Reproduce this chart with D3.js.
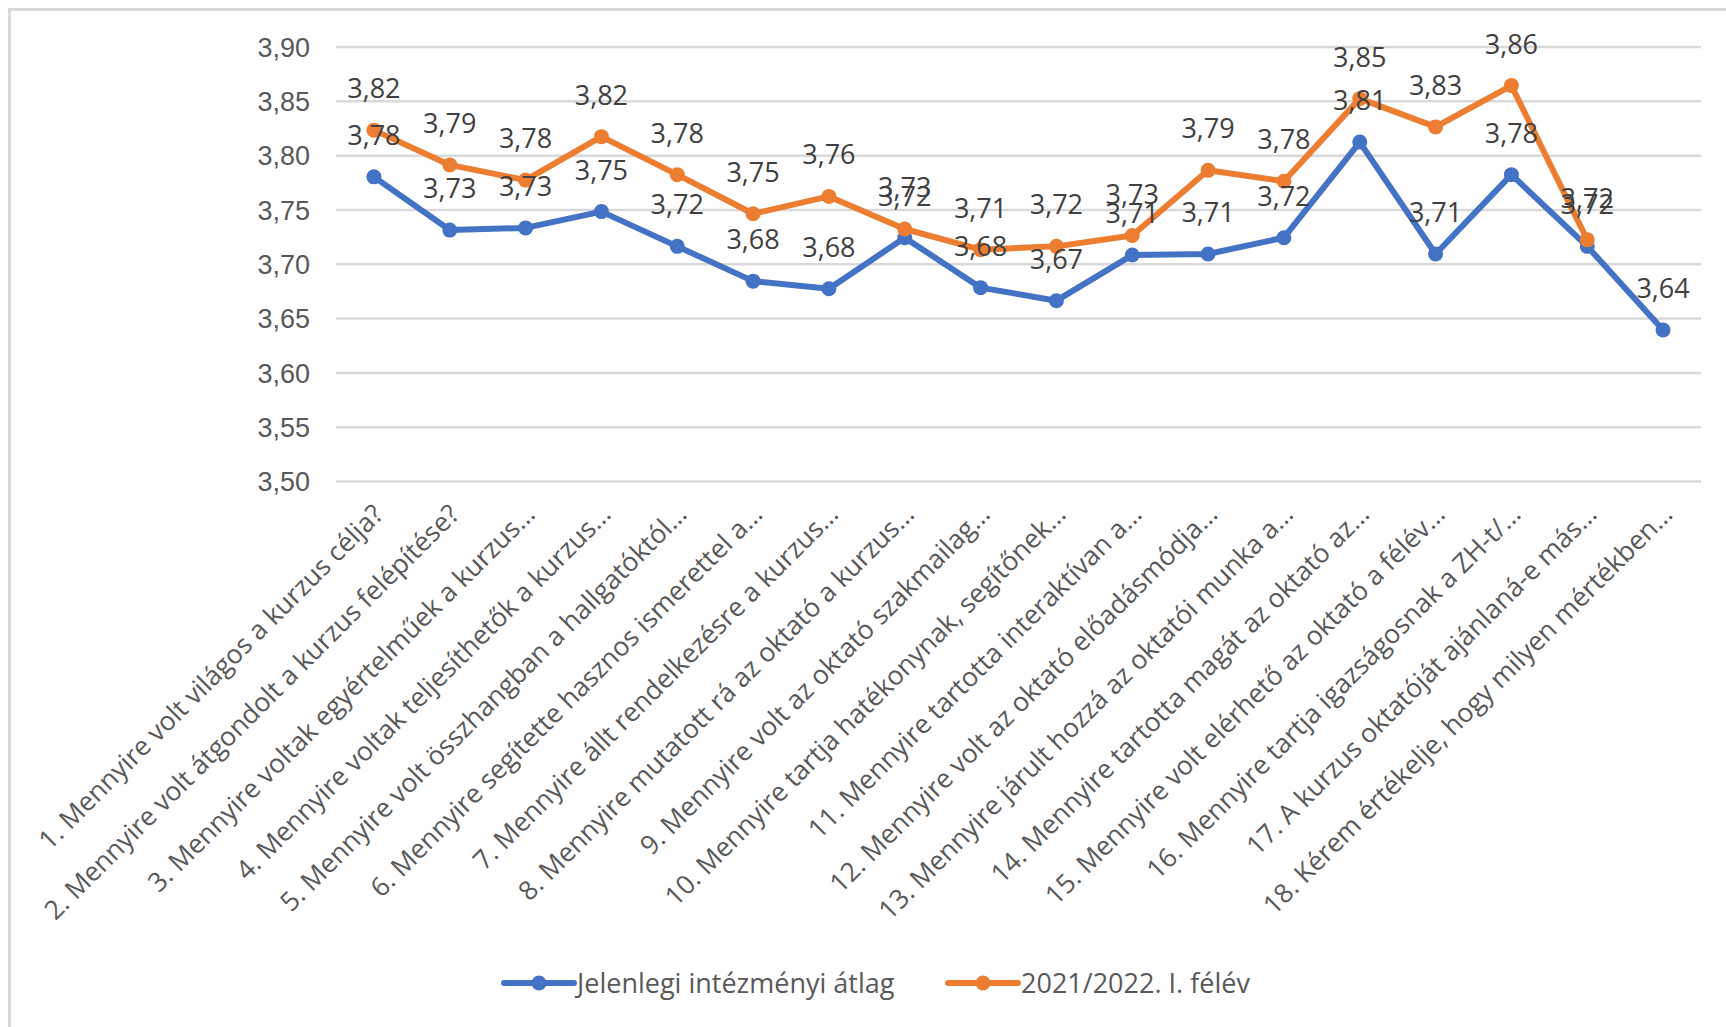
<!DOCTYPE html>
<html>
<head>
<meta charset="utf-8">
<script src="https://cdn.jsdelivr.net/npm/d3@7"></script>
<style>
  body { margin: 0; background: #fff; }
  svg { display: block; font-family: "Open Sans", sans-serif; }
  .gridlines line { stroke: #d9d9d9; stroke-width: 2.5; }
  .gridlines .domain { display: none; }
  .gridlines text { fill: #595959; font-size: 27px; }
  .cat-label { fill: #595959; font-size: 26.5px; }
  .data-label { fill: #404040; font-size: 27px; }
  .legend-text { fill: #595959; font-size: 27px; }
</style>
</head>
<body>
<svg id="chart"></svg>
<script>
const SVGWidth = 1726;
const SVGHeight = 1027;

// categories (x axis, rotated)
const categories = [
  "1. Mennyire volt világos a kurzus célja?",
  "2. Mennyire volt átgondolt a kurzus felépítése?",
  "3. Mennyire voltak egyértelműek a kurzus…",
  "4. Mennyire voltak teljesíthetők a kurzus…",
  "5. Mennyire volt összhangban a hallgatóktól…",
  "6. Mennyire segítette hasznos ismerettel a…",
  "7. Mennyire állt rendelkezésre a kurzus…",
  "8. Mennyire mutatott rá az oktató a kurzus…",
  "9. Mennyire volt az oktató szakmailag…",
  "10. Mennyire tartja hatékonynak, segítőnek…",
  "11. Mennyire tartotta interaktívan a…",
  "12. Mennyire volt az oktató előadásmódja…",
  "13. Mennyire járult hozzá az oktatói munka a…",
  "14. Mennyire tartotta magát az oktató az…",
  "15. Mennyire volt elérhető az oktató a félév…",
  "16. Mennyire tartja igazságosnak a ZH-t/…",
  "17. A kurzus oktatóját ajánlaná-e más…",
  "18. Kérem értékelje, hogy milyen mértékben…"
];

// series values
const seriesNames = ["Jelenlegi intézményi átlag", "2021/2022. I. félév"];
const intezmenyiAtlag = [3.780, 3.731, 3.733, 3.748, 3.716, 3.684, 3.677, 3.724, 3.678,
                         3.666, 3.708, 3.709, 3.724, 3.812, 3.709, 3.782, 3.716, 3.639];
const felev2122 = [3.823, 3.791, 3.777, 3.817, 3.782, 3.746, 3.762, 3.732, 3.713,
                   3.716, 3.726, 3.786, 3.776, 3.852, 3.826, 3.864, 3.722, null];
const seriesColors = ["#4472C4", "#ED7D31"];

// y ticks
const yTicks = [3.50, 3.55, 3.60, 3.65, 3.70, 3.75, 3.80, 3.85, 3.90];

const fmt = v => d3.format(".2f")(v).replace(".", ",");

const plot = { left: 336, right: 1701, top: 46.5, bottom: 481 };

const SVG = d3.select("#chart")
  .attr("width", SVGWidth)
  .attr("height", SVGHeight);

SVG.append("rect")
  .attr("width", SVGWidth).attr("height", SVGHeight)
  .attr("fill", "#fff");

// chart border (only top and left visible in the crop)
SVG.append("rect")
  .attr("x", 9.5).attr("y", 9.5)
  .attr("width", SVGWidth + 20).attr("height", SVGHeight + 20)
  .attr("fill", "none")
  .attr("stroke", "#d9d9d9")
  .attr("stroke-width", 3);

const x = d3.scalePoint()
  .domain(categories)
  .range([plot.left, plot.right])
  .padding(0.5);

const y = d3.scaleLinear()
  .domain([3.5, 3.9])
  .range([plot.bottom, plot.top]);

// gridlines + y labels
const gridlines = SVG.append("g")
  .attr("class", "gridlines")
  .attr("transform", `translate(${plot.left},0)`)
  .call(d3.axisLeft(y)
    .tickValues(yTicks)
    .tickSize(-(plot.right - plot.left))
    .tickPadding(26)
    .tickFormat(fmt));
gridlines.selectAll("text").attr("dy", "0.36em");

// category labels, rotated -45
SVG.append("g")
  .selectAll(".cat-label")
  .data(categories)
  .enter()
  .append("text")
  .attr("class", "cat-label")
  .attr("text-anchor", "end")
  .attr("transform", d => `translate(${x(d) + 11}, ${plot.bottom + 35}) rotate(-45)`)
  .text(d => d);

const series = [intezmenyiAtlag, felev2122].map((vals, i) => ({
  name: seriesNames[i],
  color: seriesColors[i],
  points: vals.map((v, j) => ({ cat: categories[j], value: v })).filter(p => p.value !== null)
}));

const line = d3.line()
  .x(d => x(d.cat))
  .y(d => y(d.value));

const seriesGroup = SVG.append("g").attr("class", "series");

series.forEach(s => {
  const g = seriesGroup.append("g");
  g.append("path")
    .datum(s.points)
    .attr("d", line)
    .attr("fill", "none")
    .attr("stroke", s.color)
    .attr("stroke-width", 6)
    .attr("stroke-linejoin", "round")
    .attr("stroke-linecap", "round");
  g.selectAll("circle")
    .data(s.points)
    .enter()
    .append("circle")
    .attr("cx", d => x(d.cat))
    .attr("cy", d => y(d.value))
    .attr("r", 7.5)
    .attr("fill", s.color);
});

// data labels above points
const labelGroup = SVG.append("g").attr("class", "data-labels");
series.forEach(s => {
  labelGroup.selectAll(null)
    .data(s.points)
    .enter()
    .append("text")
    .attr("class", "data-label")
    .attr("text-anchor", "middle")
    .attr("x", d => x(d.cat))
    .attr("y", d => y(d.value) - 32)
    .text(d => fmt(d.value));
});

// legend
const legendY = 983;
const legendEntries = [
  { x: 504, color: seriesColors[0], name: seriesNames[0] },
  { x: 948, color: seriesColors[1], name: seriesNames[1] }
];
const legend = SVG.append("g").attr("class", "legend");
legendEntries.forEach(e => {
  legend.append("line")
    .attr("x1", e.x).attr("x2", e.x + 70)
    .attr("y1", legendY).attr("y2", legendY)
    .attr("stroke", e.color)
    .attr("stroke-width", 6)
    .attr("stroke-linecap", "round");
  legend.append("circle")
    .attr("cx", e.x + 35).attr("cy", legendY)
    .attr("r", 7.5)
    .attr("fill", e.color);
  legend.append("text")
    .attr("class", "legend-text")
    .attr("x", e.x + 73)
    .attr("y", legendY)
    .attr("dy", "0.36em")
    .text(e.name);
});
</script>
</body>
</html>
